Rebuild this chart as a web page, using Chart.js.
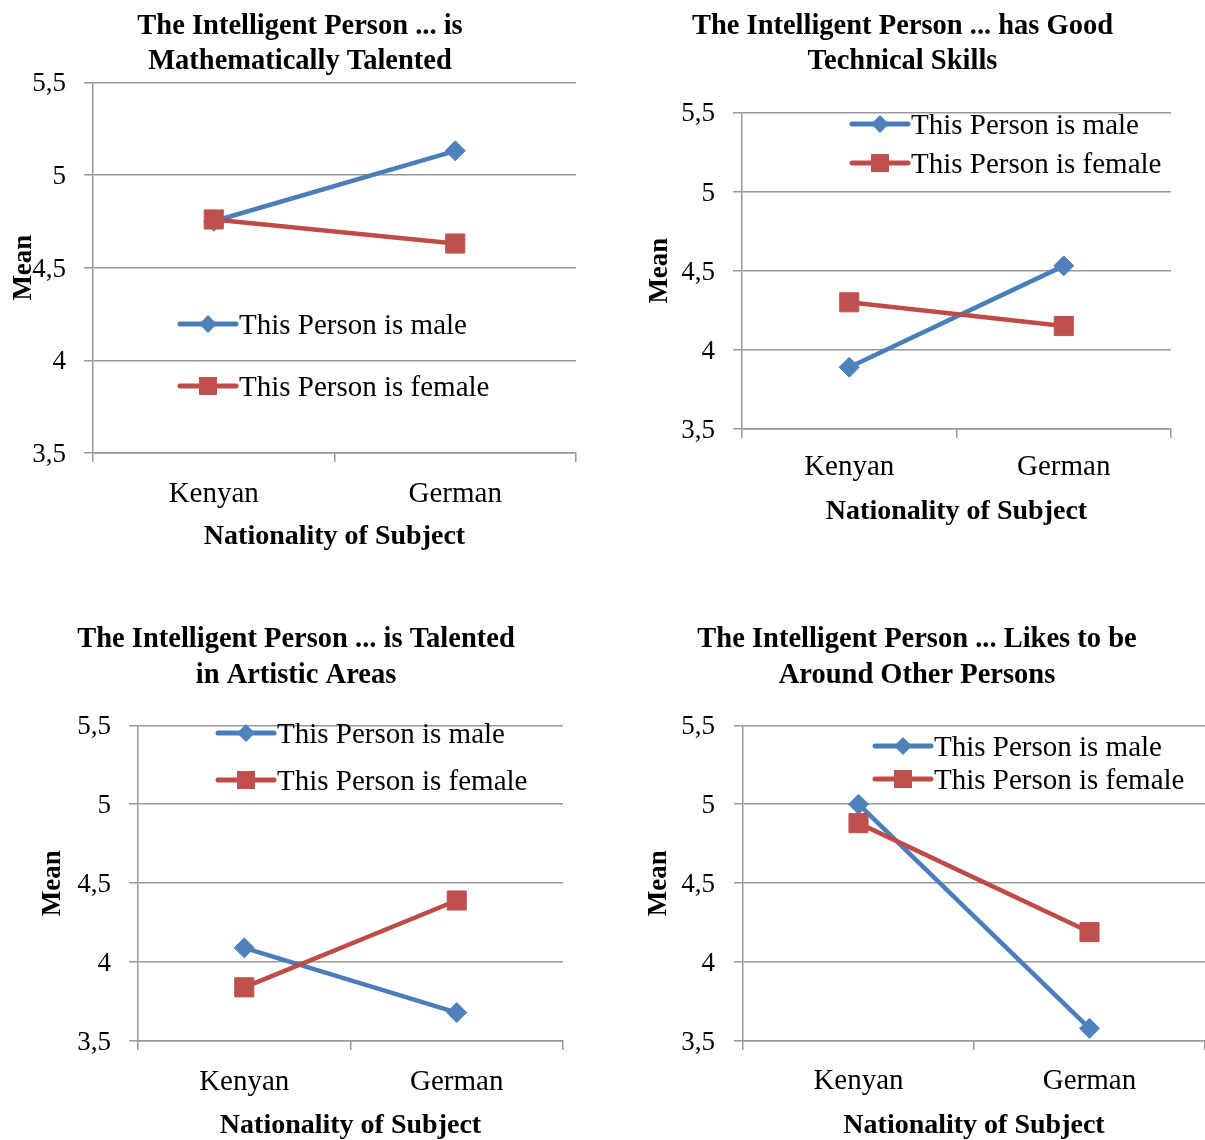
<!DOCTYPE html>
<html>
<head>
<meta charset="utf-8" />
<title>The Intelligent Person</title>
<script src="https://cdn.jsdelivr.net/npm/chart.js@4"></script>
<style>
  body { margin: 0; background: #fff; width: 1205px; height: 1140px; overflow: hidden; position: relative; }
  canvas { position: absolute; }
</style>
</head>
<body>
<canvas id="c1" width="600" height="560" style="left:0px;top:0px"></canvas>
<canvas id="c2" width="595" height="540" style="left:605px;top:0px"></canvas>
<canvas id="c3" width="592" height="540" style="left:0px;top:600px"></canvas>
<canvas id="c4" width="576" height="540" style="left:629px;top:600px"></canvas>
<script>
// data
const categories = ['Kenyan', 'German'];
const seriesNames = ['This Person is male', 'This Person is female'];
const mathMale = [4.75, 5.13];
const mathFemale = [4.76, 4.63];
const techMale = [3.89, 4.53];
const techFemale = [4.30, 4.15];
const artMale = [4.09, 3.68];
const artFemale = [3.84, 4.39];
const socialMale = [5.00, 3.58];
const socialFemale = [4.88, 4.19];
const yTickValues = [3.5, 4, 4.5, 5, 5.5];
const yTickLabels = ['3,5', '4', '4,5', '5', '5,5'];
const xAxisTitle = 'Nationality of Subject';
const yAxisTitle = 'Mean';
const panelTitles = [
  ['The Intelligent Person ... is', 'Mathematically Talented'],
  ['The Intelligent Person ... has Good', 'Technical Skills'],
  ['The Intelligent Person ... is Talented', 'in Artistic Areas'],
  ['The Intelligent Person ... Likes to be', 'Around Other Persons']
];

Chart.defaults.font.family = '"Liberation Serif", "Times New Roman", serif';
Chart.defaults.color = '#000';

const gridColor = '#989898';
const blueLine = '#4A7EBB', bluePoint = '#4F81BD';
const redLine = '#BE4B48', redPoint = '#C0504D';

// legend drawn inside the plot area, like the Excel original
const insideLegend = {
  id: 'insideLegend',
  afterDatasetsDraw(chart, args, opts) {
    const ctx = chart.ctx;
    ctx.save();
    chart.data.datasets.forEach((ds, i) => {
      const y = opts.y + i * opts.gap;
      const x0 = opts.x, x1 = opts.x + 56;
      const cx = (x0 + x1) / 2;
      ctx.strokeStyle = ds.borderColor;
      ctx.lineWidth = 5;
      ctx.lineCap = 'round';
      ctx.beginPath();
      ctx.moveTo(x0, y);
      ctx.lineTo(x1, y);
      ctx.stroke();
      ctx.fillStyle = ds.pointBackgroundColor;
      ctx.beginPath();
      if (ds.pointStyle === 'rectRot') {
        const r = 9;
        ctx.moveTo(cx - r, y);
        ctx.lineTo(cx, y - r);
        ctx.lineTo(cx + r, y);
        ctx.lineTo(cx, y + r);
        ctx.closePath();
      } else {
        ctx.rect(cx - 9, y - 9, 18, 18);
      }
      ctx.fill();
      ctx.fillStyle = '#000';
      ctx.font = '29px "Liberation Serif", serif';
      ctx.textAlign = 'left';
      ctx.textBaseline = 'middle';
      ctx.fillText(ds.label, x1 + 3, y + 2);
    });
    ctx.restore();
  }
};

function makePanel(id, title, male, female, lay) {
  const scales = {
    x: {
      type: 'category',
      offset: true,
      grid: { offset: true, drawOnChartArea: false, drawTicks: true, tickLength: 9, color: gridColor, lineWidth: 1.5 },
      border: { display: true, color: gridColor, width: 1.5 },
      ticks: { font: { size: 29 }, padding: lay.xTickPad + 1, maxRotation: 0 },
      title: { display: true, text: xAxisTitle, font: { size: 28, weight: 'bold', lineHeight: 1 }, padding: { top: 0, bottom: lay.xTitlePad - 2 } },
      afterFit: s => { s.height = lay.xHeight; }
    },
    y: {
      type: 'linear',
      min: 3.5,
      max: 5.5,
      afterBuildTicks: s => { s.ticks = yTickValues.map(v => ({ value: v })); },
      grid: { color: gridColor, lineWidth: 1.5, tickLength: 9 },
      border: { display: true, color: gridColor, width: 1.5 },
      ticks: { font: { size: 27 }, padding: lay.yTickPad, labelOffset: 2, callback: v => yTickLabels[yTickValues.indexOf(v)] },
      title: { display: true, text: yAxisTitle, font: { size: 27, weight: 'bold', lineHeight: 1 }, padding: { top: lay.yTitlePad + 1.5, bottom: 0 } },
      afterFit: s => { s.width = lay.yWidth; }
    }
  };
  if (lay.padR > 0) {
    scales.pad = {
      type: 'linear', position: 'right', display: true,
      grid: { display: false }, border: { display: false }, ticks: { display: false },
      afterFit: s => { s.width = lay.padR; }
    };
  }
  return new Chart(document.getElementById(id), {
    type: 'line',
    data: {
      labels: categories,
      datasets: [
        { label: seriesNames[0], data: male, borderColor: blueLine, backgroundColor: bluePoint,
          pointBackgroundColor: bluePoint, pointBorderColor: bluePoint, pointStyle: 'rectRot',
          pointRadius: 10, pointBorderWidth: 1, borderWidth: 4.5, order: 1 },
        { label: seriesNames[1], data: female, borderColor: redLine, backgroundColor: redPoint,
          pointBackgroundColor: redPoint, pointBorderColor: redPoint, pointStyle: 'rect',
          pointRadius: 13.5, pointBorderWidth: 1, borderWidth: 4.5, order: 0 }
      ]
    },
    options: {
      responsive: false,
      animation: false,
      layout: { padding: 0, autoPadding: false },
      plugins: {
        legend: { display: false },
        tooltip: { enabled: false },
        title: {
          display: true, text: title,
          font: { size: 28.5, weight: 'bold', lineHeight: lay.titleLH },
          padding: { top: lay.titleTop + 2, bottom: lay.titleBottom - 2 }
        },
        insideLegend: lay.legend
      },
      scales: scales
    },
    plugins: [insideLegend]
  });
}

makePanel('c1', panelTitles[0], mathMale, mathFemale, {
  yWidth: 93, padR: 24, xHeight: 107, xTickPad: 13.6, xTitlePad: 11, yTickPad: 18, yTitlePad: 9.5,
  titleLH: 1.25, titleTop: 6.5, titleBottom: 4.5, legend: { x: 180, y: 324, gap: 62 }
});
makePanel('c2', panelTitles[1], techMale, techFemale, {
  yWidth: 137, padR: 29, xHeight: 111, xTickPad: 11, xTitlePad: 16, yTickPad: 18, yTitlePad: 40.5,
  titleLH: 1.25, titleTop: 6.5, titleBottom: 34.5, legend: { x: 247, y: 124, gap: 39 }
});
makePanel('c3', panelTitles[2], artMale, artFemale, {
  yWidth: 138, padR: 29, xHeight: 99, xTickPad: 13.6, xTitlePad: 2, yTickPad: 18, yTitlePad: 38.5,
  titleLH: 1.27, titleTop: 19.2, titleBottom: 33.7, legend: { x: 218, y: 133, gap: 47 }
});
makePanel('c4', panelTitles[3], socialMale, socialFemale, {
  yWidth: 114, padR: 0, xHeight: 99, xTickPad: 12.6, xTitlePad: 2, yTickPad: 19, yTitlePad: 15.5,
  titleLH: 1.27, titleTop: 19.2, titleBottom: 33.7, legend: { x: 246, y: 146, gap: 33 }
});
</script>
</body>
</html>
